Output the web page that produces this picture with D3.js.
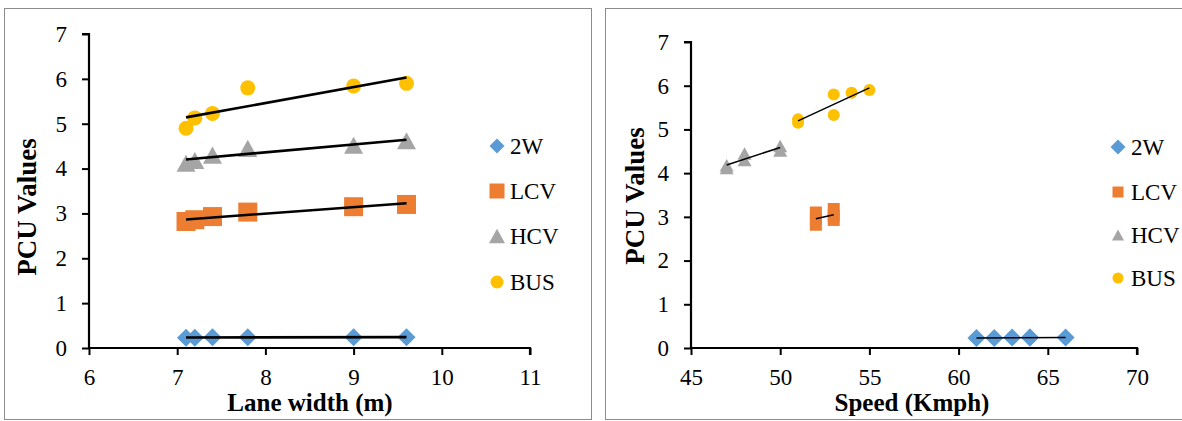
<!DOCTYPE html>
<html><head><meta charset="utf-8">
<script src="https://cdn.jsdelivr.net/npm/d3@7"></script>
<style>body{margin:0;background:#fff}svg{display:block}svg text{font-family:"Liberation Serif","Times New Roman",serif}</style>
</head><body><svg id="c" width="1182" height="421"></svg>
<script>
// ---- data ----
const seriesNames = ["2W", "LCV", "HCV", "BUS"];
const seriesColors = ["#5B9BD5", "#ED7D31", "#A5A5A5", "#FFC000"];
const yTicks = [0, 1, 2, 3, 4, 5, 6, 7];

// Left chart: Lane width (m)
const laneTicks = [6, 7, 8, 9, 10, 11];
const laneWidth = [7.1, 7.2, 7.4, 7.8, 9.0, 9.6];
const lane2W  = [0.23, 0.23, 0.24, 0.24, 0.24, 0.24];
const laneLCV = [2.82, 2.86, 2.93, 3.03, 3.15, 3.20];
const laneHCV = [4.12, 4.18, 4.30, 4.45, 4.52, 4.62];
const laneBUS = [4.90, 5.13, 5.23, 5.80, 5.84, 5.90];

// Right chart: Speed (Kmph)
const speedTicks = [45, 50, 55, 60, 65, 70];
const speed2W  = [61, 62, 63, 64, 64, 66];
const pcu2W    = [0.23, 0.23, 0.24, 0.24, 0.24, 0.24];
const speedLCV = [52, 52, 52, 53, 53, 53];
const pcuLCV   = [2.82, 2.95, 3.10, 2.93, 3.03, 3.18];
const speedHCV = [47, 47, 48, 48, 50, 50];
const pcuHCV   = [4.12, 4.18, 4.30, 4.45, 4.52, 4.62];
const speedBUS = [51, 51, 53, 53, 54, 55];
const pcuBUS   = [5.15, 5.23, 5.33, 5.80, 5.84, 5.90];

const svg = d3.select("#c");
const SERIF = '"Liberation Serif","Times New Roman",serif';

function markerPath(type, s) {
  const h = s / 2;
  if (type === 0) return `M0,${-h}L${h},0L0,${h}L${-h},0Z`;
  if (type === 1) return `M${-h},${-h}H${h}V${h}H${-h}Z`;
  const th = s * 0.9;
  return `M0,${-th/2}L${h},${th/2}L${-h},${th/2}Z`;
}
function drawMarker(g, type, x, y, s, color) {
  if (type === 3) {
    g.append("circle").attr("cx", x).attr("cy", y).attr("r", s / 2).attr("fill", color);
  } else {
    g.append("path").attr("d", markerPath(type, s)).attr("transform", `translate(${x},${y})`).attr("fill", color);
  }
}
function fit(xs, ys) {
  const n = xs.length, mx = d3.mean(xs), my = d3.mean(ys);
  let sxy = 0, sxx = 0;
  for (let i = 0; i < n; i++) { sxy += (xs[i]-mx)*(ys[i]-my); sxx += (xs[i]-mx)**2; }
  const b = sxx ? sxy / sxx : 0, a = my - b * mx;
  const x0 = d3.min(xs), x1 = d3.max(xs);
  return [[x0, a + b * x0], [x1, a + b * x1]];
}

function chart(cfg) {
  const g = svg.append("g");
  g.append("rect").attr("x", cfg.box[0] + 0.5).attr("y", cfg.box[1] + 0.5)
    .attr("width", cfg.box[2]).attr("height", cfg.box[3])
    .attr("fill", "none").attr("stroke", "#8c8c8c").attr("stroke-width", 1);
  const x = d3.scaleLinear().domain(cfg.xDomain).range(cfg.xRange);
  const y = d3.scaleLinear().domain([0, 7]).range(cfg.yRange);

  const xa = g.append("g").attr("transform", `translate(0,${cfg.yRange[0]})`)
    .call(d3.axisBottom(x).tickValues(cfg.xTicks).tickSize(7).tickPadding(14).tickFormat(d3.format("d")));
  const ya = g.append("g").attr("transform", `translate(${cfg.xRange[0]},0)`)
    .call(d3.axisLeft(y).tickValues(yTicks).tickSize(7).tickPadding(15).tickFormat(d3.format("d")));
  [xa, ya].forEach(a => {
    a.attr("font-family", null).attr("font-size", null);
    a.select(".domain").attr("stroke", "#000").attr("stroke-width", 2.2);
    a.selectAll(".tick line").attr("stroke", "#000").attr("stroke-width", 2);
    a.selectAll(".tick text").style("font-size", "23px").attr("fill", "#000")
      .style("font-family", SERIF);
  });
  xa.select(".domain").attr("d", `M${cfg.xRange[0]},0H${cfg.xRange[1]}V7`);
  ya.select(".domain").attr("d", `M-7,${cfg.yRange[1]}H0V${cfg.yRange[0]}`);

  const mg = g.append("g");
  cfg.series.forEach((s, i) => {
    s.xs.forEach((xv, j) => drawMarker(mg, i, x(xv), y(s.ys[j]), cfg.msize[i], seriesColors[i]));
  });
  cfg.series.forEach(s => {
    const f = fit(s.xs, s.ys);
    g.append("line").attr("x1", x(f[0][0])).attr("y1", y(f[0][1]))
      .attr("x2", x(f[1][0])).attr("y2", y(f[1][1]))
      .attr("stroke", "#000").attr("stroke-width", cfg.tw);
  });

  seriesNames.forEach((n, i) => {
    const ly = cfg.legY[i];
    drawMarker(g, i, cfg.legX, ly, cfg.lsize[i], seriesColors[i]);
    g.append("text").attr("x", cfg.legX + 13).attr("y", ly + 8).style("font-size", "23px")
      .attr("fill", "#000").text(n);
  });

  g.append("text").attr("x", cfg.xTitle[0]).attr("y", cfg.xTitle[1]).attr("text-anchor", "middle")
    .style("font-size", "25px").attr("font-weight", "bold").text(cfg.xLabel);
  g.append("text").attr("transform", `translate(${cfg.yTitle[0]},${cfg.yTitle[1]}) rotate(-90)`)
    .attr("text-anchor", "middle").style("font-size", "27px").attr("font-weight", "bold").text("PCU Values");
}

chart({
  box: [4, 8, 587, 411],
  xDomain: [6, 11], xRange: [89, 530], yRange: [348, 34], xTicks: laneTicks,
  series: [
    { xs: laneWidth, ys: lane2W }, { xs: laneWidth, ys: laneLCV },
    { xs: laneWidth, ys: laneHCV }, { xs: laneWidth, ys: laneBUS }
  ],
  msize: [18, 19, 19, 15], lsize: [15, 15, 16, 13], tw: 2.6,
  legX: 497, legY: [146, 191, 236, 282],
  xLabel: "Lane width (m)", xTitle: [310, 411], yTitle: [36, 207]
});
chart({
  box: [605, 8, 590, 411],
  xDomain: [45, 70], xRange: [691, 1137], yRange: [348, 42], xTicks: speedTicks,
  series: [
    { xs: speed2W, ys: pcu2W }, { xs: speedLCV, ys: pcuLCV },
    { xs: speedHCV, ys: pcuHCV }, { xs: speedBUS, ys: pcuBUS }
  ],
  msize: [18, 12, 14, 12], lsize: [15, 11, 12, 11], tw: 1.5,
  legX: 1118, legY: [147, 192, 235, 278],
  xLabel: "Speed (Kmph)", xTitle: [912, 411], yTitle: [644, 196]
});
</script></body></html>
